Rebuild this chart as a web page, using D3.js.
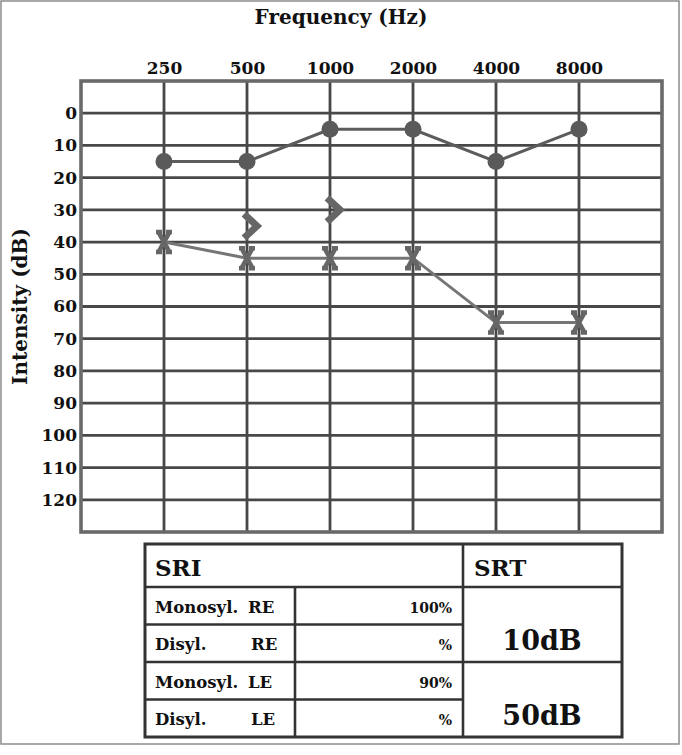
<!DOCTYPE html>
<html>
<head>
<meta charset="utf-8">
<script src="https://cdn.jsdelivr.net/npm/d3@7"></script>
<style>
  html, body { margin: 0; padding: 0; background: #fff; }
  svg { display: block; }
  text { font-family: "DejaVu Serif", "Liberation Serif", serif; font-weight: bold; fill: #111; }
</style>
</head>
<body>
<div id="chart"></div>
<script>
// ---- data ----
const frequencies = ["250", "500", "1000", "2000", "4000", "8000"];
const dbTicks = [0, 10, 20, 30, 40, 50, 60, 70, 80, 90, 100, 110, 120];
const rightEarAC = [15, 15, 5, 5, 15, 5];          // circles
const leftEarAC = [40, 45, 45, 45, 65, 65];          // X markers
const leftEarBCFreqs = ["500", "1000"];              // ">" markers
const leftEarBC = [35, 30];
const sriLabels = ["Monosyl.", "Disyl.", "Monosyl.", "Disyl."];
const sriEars = ["RE", "RE", "LE", "LE"];
const sriValues = ["100%", "%", "90%", "%"];
const srtValues = ["10dB", "50dB"];

// ---- layout ----
const W = 682, H = 755;
const svg = d3.select("#chart").append("svg").attr("width", W).attr("height", H);

svg.append("rect").attr("x", 1).attr("y", 1).attr("width", 678).attr("height", 743)
  .attr("fill", "none").attr("stroke", "#8c8c8c").attr("stroke-width", 1.5);

const gLeft = 81, gRight = 662, gTop = 81, gBottom = 532;
const colIndex = d3.scaleLinear().domain([0, frequencies.length + 1]).range([gLeft, gRight]);
const x = f => colIndex(frequencies.indexOf(f) + 1);
const y = d3.scaleLinear().domain([-10, 130]).range([gTop, gBottom]);

// grid
const grid = svg.append("g");
grid.selectAll("line.v").data(d3.range(1, frequencies.length + 1)).join("line")
  .attr("x1", d => colIndex(d)).attr("x2", d => colIndex(d))
  .attr("y1", gTop).attr("y2", gBottom)
  .attr("stroke", "#484848").attr("stroke-width", 2.8);
grid.selectAll("line.h").data(dbTicks).join("line")
  .attr("x1", gLeft).attr("x2", gRight)
  .attr("y1", d => y(d)).attr("y2", d => y(d))
  .attr("stroke", "#484848").attr("stroke-width", 2.8);
grid.append("rect").attr("x", gLeft).attr("y", gTop)
  .attr("width", gRight - gLeft).attr("height", gBottom - gTop)
  .attr("fill", "none").attr("stroke", "#6a6a6a").attr("stroke-width", 3.6);

// axes
const xAxisScale = d3.scalePoint().domain(frequencies).range([x(frequencies[0]), x(frequencies[frequencies.length - 1])]);
const xAxis = svg.append("g").attr("transform", `translate(0,${gTop})`)
  .call(d3.axisTop(xAxisScale).tickSize(0).tickPadding(7));
xAxis.select(".domain").remove();
xAxis.selectAll("text").attr("font-size", 17).attr("font-family", "DejaVu Serif").attr("font-weight", "bold").attr("fill", "#111");

const yAxis = svg.append("g").attr("transform", `translate(${gLeft},0)`)
  .call(d3.axisLeft(y).tickValues(dbTicks).tickSize(0).tickPadding(4));
yAxis.select(".domain").remove();
yAxis.selectAll("text").attr("font-size", 17).attr("font-family", "DejaVu Serif").attr("font-weight", "bold").attr("fill", "#111");

svg.append("text").attr("x", 341).attr("y", 24).attr("text-anchor", "middle")
  .attr("font-size", 20).text("Frequency (Hz)");
svg.append("text").attr("transform", `translate(27,${(gTop + gBottom) / 2}) rotate(-90)`)
  .attr("text-anchor", "middle").attr("font-size", 20).text("Intensity (dB)");

// right ear line + circles
const rData = frequencies.map((f, i) => ({ f, v: rightEarAC[i] }));
const line = d3.line().x(d => x(d.f)).y(d => y(d.v));
svg.append("path").datum(rData).attr("d", line)
  .attr("fill", "none").attr("stroke", "#5c5c5c").attr("stroke-width", 3);
svg.selectAll("circle.r").data(rData).join("circle")
  .attr("cx", d => x(d.f)).attr("cy", d => y(d.v)).attr("r", 8.5)
  .attr("fill", "#5a5a5a");

// left ear line + X markers
const lData = frequencies.map((f, i) => ({ f, v: leftEarAC[i] }));
svg.append("path").datum(lData).attr("d", line)
  .attr("fill", "none").attr("stroke", "#767676").attr("stroke-width", 3);
const xMark = "M-5,-9L5,9M5,-9L-5,9M-8,-10H-2M2,-10H8M-8,10H-2M2,10H8";
svg.selectAll("path.x").data(lData).join("path")
  .attr("transform", d => `translate(${x(d.f)},${y(d.v)})`)
  .attr("d", xMark).attr("fill", "none").attr("stroke", "#666").attr("stroke-width", 4.5);

// bone conduction ">" markers
const bData = leftEarBCFreqs.map((f, i) => ({ f, v: leftEarBC[i] }));
svg.selectAll("path.b").data(bData).join("path")
  .attr("transform", d => `translate(${x(d.f) + 4},${y(d.v)})`)
  .attr("d", "M-7,-12L6,0L-7,12").attr("fill", "none")
  .attr("stroke", "#666").attr("stroke-width", 7).attr("stroke-linejoin", "miter");

// ---- table ----
const tL = 145, tR = 622, tT = 544, tHead = 587, tB = 737;
const c1 = 295, c2 = 463;
const rowH = (tB - tHead) / 4;
const rowY = i => tHead + i * rowH;
const tg = svg.append("g");
const ls = (x1, y1, x2, y2) => tg.append("line").attr("x1", x1).attr("y1", y1).attr("x2", x2).attr("y2", y2)
  .attr("stroke", "#333").attr("stroke-width", 2.6);
tg.append("rect").attr("x", tL).attr("y", tT).attr("width", tR - tL).attr("height", tB - tT)
  .attr("fill", "none").attr("stroke", "#333").attr("stroke-width", 3);
ls(tL, tHead, tR, tHead);
ls(c2, tT, c2, tB);
ls(c1, tHead, c1, tB);
ls(tL, rowY(1), c2, rowY(1));
ls(tL, rowY(2), tR, rowY(2));
ls(tL, rowY(3), c2, rowY(3));

tg.append("text").attr("x", 155).attr("y", 576).attr("font-size", 23).text("SRI");
tg.append("text").attr("x", 474).attr("y", 576).attr("font-size", 23).text("SRT");

sriLabels.forEach((lab, i) => {
  const by = rowY(i) + rowH - 12;
  tg.append("text").attr("x", 155).attr("y", by).attr("font-size", 16.5).text(lab);
  tg.append("text").attr("x", i % 2 === 0 ? 248 : 251).attr("y", by).attr("font-size", 16.5).text(sriEars[i]);
  tg.append("text").attr("x", 452).attr("y", by).attr("text-anchor", "end").attr("font-size", 14).text(sriValues[i]);
});
srtValues.forEach((v, i) => {
  tg.append("text").attr("x", 542).attr("y", rowY(2 * i + 2) - 12).attr("text-anchor", "middle")
    .attr("font-size", 27).text(v);
});
</script>
</body>
</html>
